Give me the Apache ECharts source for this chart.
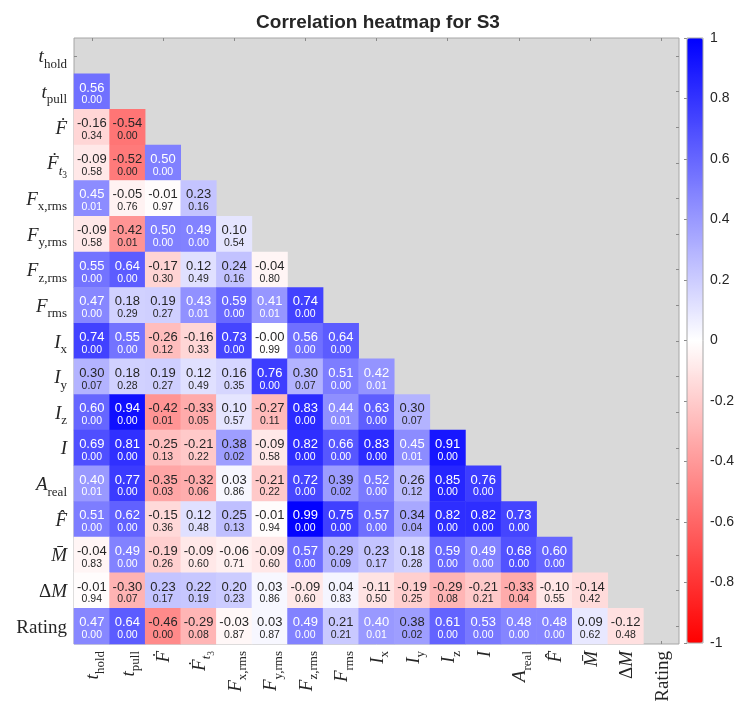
<!DOCTYPE html>
<html>
<head>
<meta charset="utf-8">
<script src="https://cdn.jsdelivr.net/npm/echarts@6/dist/echarts.min.js"></script>
<style>
  html, body { margin: 0; padding: 0; background: #fff; }
  #chart { width: 739px; height: 701px; }
</style>
</head>
<body>
<div id="chart"></div>
<script>
// Variable names (row/column order of the correlation matrix)
const variables = ['t_hold', 't_pull', 'F_dot', 'F_dot_t3', 'Fx_rms', 'Fy_rms', 'Fz_rms', 'F_rms',
  'I_x', 'I_y', 'I_z', 'I', 'A_real', 'F_hat', 'M_bar', 'Delta_M', 'Rating'];

// Tick labels in math notation (rich-text markup)
const tickLabels = [
  '{i|t}{s|hold}',
  '{i|t}{s|pull}',
  '{i|\u1E1E}',
  '{i|\u1E1E}{si|t}{ss|3}',
  '{i|F}{s|x,rms}',
  '{i|F}{s|y,rms}',
  '{i|F}{s|z,rms}',
  '{i|F}{s|rms}',
  '{i|I}{s|x}',
  '{i|I}{s|y}',
  '{i|I}{s|z}',
  '{i|I}',
  '{i|A}{s|real}',
  '{i|F\u0302}',
  '{i|M\u0304}',
  '{r|\u0394}{i|M}',
  '{r|Rating}'
];

// Lower-triangle correlation coefficients, row i holds columns 0..i-1
const corrRows = [
  [],
  [0.56],
  [-0.16, -0.54],
  [-0.09, -0.52, 0.50],
  [0.45, -0.05, -0.01, 0.23],
  [-0.09, -0.42, 0.50, 0.49, 0.10],
  [0.55, 0.64, -0.17, 0.12, 0.24, -0.04],
  [0.47, 0.18, 0.19, 0.43, 0.59, 0.41, 0.74],
  [0.74, 0.55, -0.26, -0.16, 0.73, -0.004, 0.56, 0.64],
  [0.30, 0.18, 0.19, 0.12, 0.16, 0.76, 0.30, 0.51, 0.42],
  [0.60, 0.94, -0.42, -0.33, 0.10, -0.27, 0.83, 0.44, 0.63, 0.30],
  [0.69, 0.81, -0.25, -0.21, 0.38, -0.09, 0.82, 0.66, 0.83, 0.45, 0.91],
  [0.40, 0.77, -0.35, -0.32, 0.03, -0.21, 0.72, 0.39, 0.52, 0.26, 0.85, 0.76],
  [0.51, 0.62, -0.15, 0.12, 0.25, -0.01, 0.99, 0.75, 0.57, 0.34, 0.82, 0.82, 0.73],
  [-0.04, 0.49, -0.19, -0.09, -0.06, -0.09, 0.57, 0.29, 0.23, 0.18, 0.59, 0.49, 0.68, 0.60],
  [-0.01, -0.30, 0.23, 0.22, 0.20, 0.03, -0.09, 0.04, -0.11, -0.19, -0.29, -0.21, -0.33, -0.10, -0.14],
  [0.47, 0.64, -0.46, -0.29, -0.03, 0.03, 0.49, 0.21, 0.40, 0.38, 0.61, 0.53, 0.48, 0.48, 0.09, -0.12]
];

// Matching p-values
const pRows = [
  [],
  [0.00],
  [0.34, 0.00],
  [0.58, 0.00, 0.00],
  [0.01, 0.76, 0.97, 0.16],
  [0.58, 0.01, 0.00, 0.00, 0.54],
  [0.00, 0.00, 0.30, 0.49, 0.16, 0.80],
  [0.00, 0.29, 0.27, 0.01, 0.00, 0.01, 0.00],
  [0.00, 0.00, 0.12, 0.33, 0.00, 0.99, 0.00, 0.00],
  [0.07, 0.28, 0.27, 0.49, 0.35, 0.00, 0.07, 0.00, 0.01],
  [0.00, 0.00, 0.01, 0.05, 0.57, 0.11, 0.00, 0.01, 0.00, 0.07],
  [0.00, 0.00, 0.13, 0.22, 0.02, 0.58, 0.00, 0.00, 0.00, 0.01, 0.00],
  [0.01, 0.00, 0.03, 0.06, 0.86, 0.22, 0.00, 0.02, 0.00, 0.12, 0.00, 0.00],
  [0.00, 0.00, 0.36, 0.48, 0.13, 0.94, 0.00, 0.00, 0.00, 0.04, 0.00, 0.00, 0.00],
  [0.83, 0.00, 0.26, 0.60, 0.71, 0.60, 0.00, 0.09, 0.17, 0.28, 0.00, 0.00, 0.00, 0.00],
  [0.94, 0.07, 0.17, 0.19, 0.23, 0.86, 0.60, 0.83, 0.50, 0.25, 0.08, 0.21, 0.04, 0.55, 0.42],
  [0.00, 0.00, 0.00, 0.08, 0.87, 0.87, 0.00, 0.21, 0.01, 0.02, 0.00, 0.00, 0.00, 0.00, 0.62, 0.48]
];

// Colour-bar tick values
const colorbarTicks = [-1, -0.8, -0.6, -0.4, -0.2, 0, 0.2, 0.4, 0.6, 0.8, 1];

const TEXT = '#262626';
const SERIF = '"Liberation Serif", "DejaVu Serif", serif';
const SANS = '"Liberation Sans", Arial, sans-serif';

const cells = [];
corrRows.forEach((row, i) => {
  row.forEach((r, j) => {
    cells.push({
      value: [j, i, r, pRows[i][j]],
      label: { color: r >= 0.395 ? '#ffffff' : TEXT }
    });
  });
});

const mathRich = {
  i: { fontFamily: SERIF, fontStyle: 'italic', fontSize: 19, color: TEXT, lineHeight: 22, verticalAlign: 'bottom' },
  r: { fontFamily: SERIF, fontSize: 19, color: TEXT, lineHeight: 22, verticalAlign: 'bottom' },
  s: { fontFamily: SERIF, fontSize: 13, color: TEXT, lineHeight: 13, padding: [0, 0, -4, 0], verticalAlign: 'bottom' },
  si: { fontFamily: SERIF, fontStyle: 'italic', fontSize: 13, color: TEXT, lineHeight: 13, padding: [0, 0, -4, 0], verticalAlign: 'bottom' },
  ss: { fontFamily: SERIF, fontSize: 9.5, color: TEXT, lineHeight: 10, padding: [0, 0, -7, 0], verticalAlign: 'bottom' }
};

const fmtLabel = (v) => tickLabels[variables.indexOf(v)];

const catAxisCommon = {
  type: 'category',
  data: variables,
  gridIndex: 0,
  axisLine: { show: false },
  axisTick: { show: true, inside: true, length: 3, alignWithLabel: true, lineStyle: { color: '#8a8a8a' } },
  splitLine: { show: false }
};

const chart = echarts.init(document.getElementById('chart'), null, { renderer: 'canvas' });

chart.setOption({
  backgroundColor: '#ffffff',
  animation: false,
  title: {
    text: 'Correlation heatmap for S3',
    left: 373,
    textAlign: 'center',
    top: 8,
    textStyle: { fontFamily: SANS, fontWeight: 'bold', fontSize: 19, color: TEXT }
  },
  grid: [
    { left: 74, top: 38, width: 605, height: 606, containLabel: false, outerBoundsMode: 'none',
      show: true, backgroundColor: '#d9d9d9', borderColor: '#a6a6a6', borderWidth: 1 },
    { left: 687, top: 38, width: 16, height: 605, containLabel: false, outerBoundsMode: 'none',
      show: true, backgroundColor: 'transparent', borderColor: '#a6a6a6', borderWidth: 1, z: 10 }
  ],
  xAxis: [
    Object.assign({}, catAxisCommon, {
      position: 'bottom',
      axisLabel: { rotate: 90, margin: 7, formatter: fmtLabel, rich: mathRich, interval: 0, hideOverlap: false }
    }),
    Object.assign({}, catAxisCommon, { position: 'top', axisLabel: { show: false } }),
    { type: 'value', gridIndex: 1, min: 0, max: 1, show: false }
  ],
  yAxis: [
    Object.assign({}, catAxisCommon, {
      position: 'left',
      inverse: true,
      axisLabel: { margin: 7, formatter: fmtLabel, rich: mathRich, interval: 0, hideOverlap: false }
    }),
    Object.assign({}, catAxisCommon, { position: 'right', inverse: true, axisLabel: { show: false } }),
    {
      type: 'value', gridIndex: 1, position: 'right',
      min: colorbarTicks[0], max: colorbarTicks[colorbarTicks.length - 1], interval: 0.2,
      axisLine: { show: false },
      axisTick: { show: true, inside: true, length: 3, lineStyle: { color: '#8a8a8a' } },
      splitLine: { show: false },
      axisLabel: {
        margin: 7, color: TEXT, fontFamily: SANS, fontSize: 14,
        formatter: (v) => {
          const t = colorbarTicks.find(c => Math.abs(c - v) < 1e-6);
          return t === undefined ? '' : String(t);
        }
      }
    }
  ],
  visualMap: {
    type: 'continuous',
    seriesIndex: 0,
    dimension: 2,
    min: -1,
    max: 1,
    calculable: false,
    hoverLink: false,
    left: 687,
    top: 38,
    itemWidth: 16,
    itemHeight: 605,
    padding: 0,
    text: null,
    showLabel: false,
    inRange: { color: ['#ff0000', '#ffffff', '#0000ff'] }
  },
  series: [{
    type: 'heatmap',
    xAxisIndex: 0,
    yAxisIndex: 0,
    data: cells,
    itemStyle: { borderWidth: 0 },
    label: {
      show: true,
      offset: [0, 2.5],
      formatter: (p) => {
        const r = p.value[2], pv = p.value[3];
        return '{a|' + r.toFixed(2) + '}\n{b|' + pv.toFixed(2) + '}';
      },
      rich: {
        a: { fontFamily: SANS, fontSize: 13, lineHeight: 13 },
        b: { fontFamily: SANS, fontSize: 10.5, lineHeight: 12 }
      }
    },
    emphasis: { disabled: true }
  }]
});
</script>
</body>
</html>
